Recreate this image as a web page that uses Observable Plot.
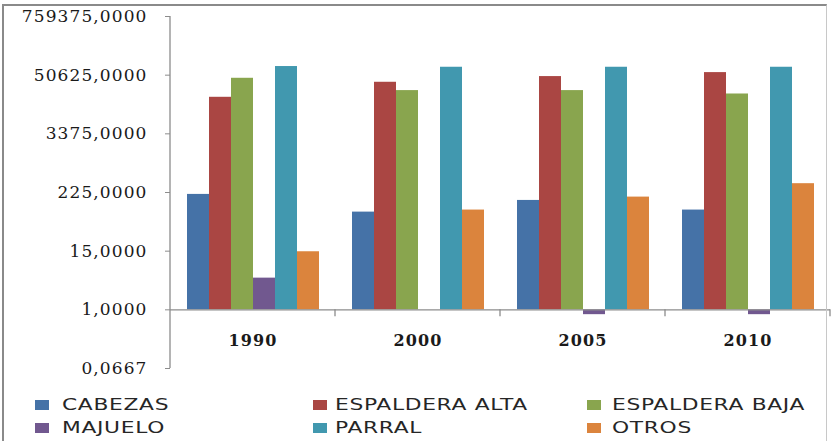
<!DOCTYPE html>
<html>
<head>
<meta charset="utf-8">
<script src="https://cdn.jsdelivr.net/npm/d3@7"></script>
<script src="https://cdn.jsdelivr.net/npm/@observablehq/plot@0.6"></script>
<style>
  html, body { margin: 0; padding: 0; background: #fff; }
  #wrap { position: relative; width: 832px; height: 441px; overflow: hidden; }
  #frame { position: absolute; left: 2px; top: 4px; width: 822px; height: 460px;
           border-left: 2px solid #8a8a8a; border-top: 2px solid #8a8a8a; border-right: 1px solid #c8c8c8; }
  #chart { position: absolute; left: 0; top: 0; }
  #chart svg text { letter-spacing: 1.1px; }
  .lg { position: absolute; font-family: "DejaVu Sans", sans-serif; font-size: 16px; color: #262626; }
  .lg .sw { position: absolute; width: 14px; height: 10px; }
  .lg .tx { position: absolute; white-space: nowrap; letter-spacing: 0.5px; transform: scaleX(1.36); transform-origin: left center; line-height: 16px; }
</style>
</head>
<body>
<div id="wrap">
  <div id="chart"></div>
  <div id="legend"></div>
  <div id="frame"></div>
</div>
<script>
const years = ["1990", "2000", "2005", "2010"];
const series = ["CABEZAS", "ESPALDERA ALTA", "ESPALDERA BAJA", "MAJUELO", "PARRAL", "OTROS"];
const colors = ["#4572A7", "#AA4643", "#89A54E", "#71588F", "#4198AF", "#DB843D"];

const cabezas       = [206, 91, 156, 100];
const espalderaAlta = [18230, 36470, 47440, 57000];
const espalderaBaja = [43850, 24840, 24840, 21230];
const majuelo       = [4.32, null, 0.8, 0.8];
const parral        = [75400, 72960, 72960, 72960];
const otros         = [14.6, 100, 182, 338];

const yTicks = [1 / 15, 1, 15, 225, 3375, 50625, 759375];

const seriesValues = [cabezas, espalderaAlta, espalderaBaja, majuelo, parral, otros];
const data = [];
years.forEach((y, i) => {
  series.forEach((s, j) => {
    const v = seriesValues[j][i];
    if (v != null) data.push({ year: y, series: s, value: v });
  });
});

const fmt = d => d.toFixed(4).replace(".", ",");

const plot = Plot.plot({
  width: 832,
  height: 380,
  marginLeft: 170,
  marginRight: 2,
  marginTop: 16,
  marginBottom: 12,
  style: { fontFamily: "DejaVu Serif, serif", fontSize: "17px", background: "transparent", overflow: "visible", color: "#1a1a1a" },
  fx: { domain: years, padding: 0, axis: null },
  x: { domain: series, paddingInner: 0, paddingOuter: 0.72, axis: null },
  y: { type: "log", base: 15, domain: [yTicks[0], yTicks[yTicks.length - 1]], ticks: yTicks, tickFormat: fmt, tickSize: 5, tickPadding: 18, label: null },
  color: { domain: series, range: colors },
  marks: [
    Plot.barY(data, { fx: "year", x: "series", y1: 1, y2: "value", fill: "series" }),
    Plot.ruleY([1], { stroke: "#8c8c8c", strokeWidth: 1.3 }),
    Plot.text(years, { fx: d => d, y: 1, text: d => d, dy: 31, fontWeight: "bold", fontSize: 16, fill: "#1a1a1a" })
  ]
});

document.getElementById("chart").appendChild(plot);

// axis line and category separators using the plot's own scales
const svg = d3.select(plot);
const fx = plot.scale("fx");
const ys = plot.scale("y");
const y0 = ys.apply(1);
const yTop = ys.apply(yTicks[yTicks.length - 1]);
const yBot = ys.apply(yTicks[0]);
const xLeft = fx.apply(years[0]);
svg.append("line")
  .attr("x1", xLeft).attr("x2", xLeft)
  .attr("y1", yTop).attr("y2", yBot)
  .attr("stroke", "#8c8c8c").attr("stroke-width", 1.3);
years.forEach(yr => {
  const xr = fx.apply(yr) + fx.bandwidth;
  svg.append("line")
    .attr("x1", xr).attr("x2", xr)
    .attr("y1", y0).attr("y2", y0 + 7)
    .attr("stroke", "#8c8c8c").attr("stroke-width", 1.3);
});
svg.selectAll('g[aria-label="y-axis tick"] path, g[aria-label="y-axis tick"] line').attr("stroke", "#8c8c8c");

// legend
const legendPos = [
  { sw: 35, tx: 62, cy: 405 }, { sw: 313, tx: 335, cy: 405 }, { sw: 587, tx: 612, cy: 405 },
  { sw: 35, tx: 62, cy: 428 }, { sw: 313, tx: 335, cy: 428 }, { sw: 587, tx: 612, cy: 428 }
];
const legend = document.getElementById("legend");
series.forEach((s, i) => {
  const p = legendPos[i];
  const item = document.createElement("div");
  item.className = "lg";
  item.innerHTML = `<div class="sw" style="left:${p.sw}px;top:${p.cy - 5}px;background:${colors[i]}"></div>` +
                   `<div class="tx" style="left:${p.tx}px;top:${p.cy - 8}px">${s}</div>`;
  legend.appendChild(item);
});
</script>
</body>
</html>
